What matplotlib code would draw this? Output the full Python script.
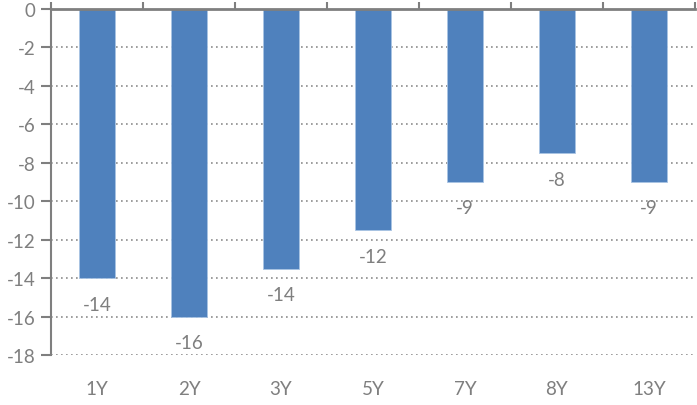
import matplotlib
matplotlib.use("Agg")
import matplotlib.pyplot as plt
import numpy as np

categories = ["1Y", "2Y", "3Y", "5Y", "7Y", "8Y", "13Y"]
values = [-14.0, -16.0, -13.5, -11.5, -9.0, -7.5, -9.0]
labels = ["-14", "-16", "-14", "-12", "-9", "-8", "-9"]
yticks = [0, -2, -4, -6, -8, -10, -12, -14, -16, -18]

plt.rcParams['font.family'] = ['Lato', 'DejaVu Sans']
gray = '#7f7f7f'
fig = plt.figure(figsize=(6.97, 4.06), dpi=100)
ax = fig.add_axes([51/697, 50/406, (695-51)/697, (396-50)/406])
x = np.arange(len(categories))
ax.bar(x, values, width=0.4, color='#4f81bd', edgecolor='#a9c4e4', linewidth=0.6, zorder=3)
for xi, v, lab in zip(x, values, labels):
    ax.annotate(lab, (xi, v), xytext=(0, -26), textcoords='offset pixels',
                ha='center', va='center', fontsize=13.5, color=gray)
ax.set_xlim(-0.5, len(categories) - 0.5)
ax.set_ylim(-18, 0)
ax.set_yticks(yticks)
ax.set_yticklabels([str(t) for t in yticks])
ax.set_xticks(x)
ax.set_xticklabels(categories)
ax.set_xticks(np.arange(-0.5, len(categories), 1.0), minor=True)
ax.tick_params(axis='x', which='major', length=0, pad=18, labelsize=13.5, labelcolor=gray)
ax.tick_params(axis='x', which='minor', top=True, bottom=False, direction='out', length=5, width=1.5, color=gray)
ax.tick_params(axis='y', length=7, width=1.5, color=gray, labelsize=13.5, labelcolor=gray, pad=4)
ax.grid(axis='y', linestyle=(0, (1, 2)), color='#8c8c8c', linewidth=1.2, zorder=0)
for s in ['right', 'bottom']:
    ax.spines[s].set_visible(False)
ax.spines['left'].set_color(gray)
ax.spines['left'].set_linewidth(1.5)
ax.spines['top'].set_color(gray)
ax.spines['top'].set_linewidth(2)
ax.spines['top'].set_zorder(4)
fig.savefig("out.png", dpi=100)
